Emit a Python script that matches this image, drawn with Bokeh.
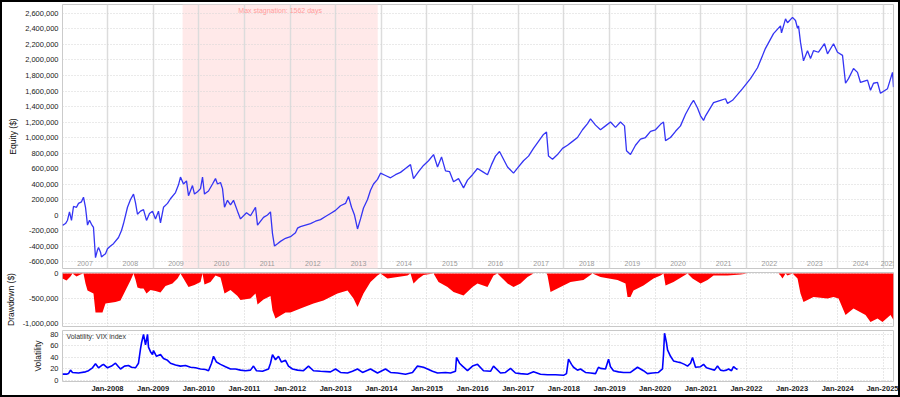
import numpy as np
from bokeh.plotting import figure
from bokeh.layouts import column
from bokeh.models import Range1d, FixedTicker, BoxAnnotation, Label, NumeralTickFormatter
from bokeh.embed import file_html
from bokeh.resources import INLINE
from bokeh.core.properties import value

# ---------------- data (dates as decimal years) ----------------
eq_t = [2007.014, 2007.08, 2007.124, 2007.167, 2007.211, 2007.255, 2007.321, 2007.365, 2007.430, 2007.474,
        2007.518, 2007.562, 2007.606, 2007.649, 2007.693, 2007.737, 2007.781, 2007.803, 2007.847, 2007.868,
        2007.912, 2007.956, 2008.000, 2008.066, 2008.131, 2008.241, 2008.307, 2008.351, 2008.438, 2008.504,
        2008.570, 2008.613, 2008.657, 2008.723, 2008.789, 2008.855, 2008.920, 2008.986, 2009.052, 2009.117,
        2009.161, 2009.227, 2009.315, 2009.380, 2009.490, 2009.556, 2009.599, 2009.665, 2009.731, 2009.775,
        2009.862, 2009.906, 2009.972, 2010.038, 2010.082, 2010.125, 2010.213, 2010.301, 2010.366, 2010.410,
        2010.476, 2010.520, 2010.564, 2010.629, 2010.695, 2010.761, 2010.848, 2010.914, 2011.046, 2011.133,
        2011.243, 2011.287, 2011.418, 2011.506, 2011.571, 2011.615, 2011.659, 2011.725, 2011.790, 2011.900,
        2012.009, 2012.119, 2012.163, 2012.228, 2012.338, 2012.448, 2012.557, 2012.667, 2012.776, 2012.886,
        2012.996, 2013.105, 2013.215, 2013.281, 2013.347, 2013.412, 2013.478, 2013.544, 2013.609, 2013.697,
        2013.763, 2013.829, 2013.916, 2013.982, 2014.091, 2014.201, 2014.310, 2014.420, 2014.529, 2014.639,
        2014.705, 2014.815, 2014.924, 2015.034, 2015.144, 2015.231, 2015.319, 2015.406, 2015.494, 2015.582,
        2015.691, 2015.801, 2015.888, 2015.998, 2016.107, 2016.217, 2016.326, 2016.414, 2016.501, 2016.589,
        2016.677, 2016.765, 2016.896, 2017.005, 2017.115, 2017.225, 2017.334, 2017.444, 2017.553, 2017.619,
        2017.663, 2017.751, 2017.860, 2017.970, 2018.079, 2018.189, 2018.298, 2018.408, 2018.518, 2018.583,
        2018.693, 2018.802, 2018.912, 2019.021, 2019.131, 2019.240, 2019.328, 2019.372, 2019.459, 2019.569,
        2019.678, 2019.788, 2019.898, 2020.007, 2020.117, 2020.183, 2020.227, 2020.336, 2020.446, 2020.555,
        2020.665, 2020.775, 2020.840, 2020.928, 2020.994, 2021.060, 2021.104, 2021.279, 2021.432, 2021.541,
        2021.585, 2021.695, 2021.914, 2022.088, 2022.242, 2022.417, 2022.593, 2022.746, 2022.768, 2022.856,
        2022.900, 2023.009, 2023.075, 2023.119, 2023.141, 2023.184, 2023.250, 2023.338, 2023.404, 2023.469,
        2023.579, 2023.710, 2023.776, 2023.908, 2023.995, 2024.105, 2024.171, 2024.236, 2024.346, 2024.433,
        2024.499, 2024.652, 2024.718, 2024.784, 2024.872, 2024.937, 2025.091, 2025.200, 2025.222]
eq_v = [-133, -110, -67, 40, -70, 110, 100, 150, 170, 230,
        100, -130, -67, -120, -160, -550, -450, -420, -480, -540,
        -520, -500, -435, -400, -370, -290, -200, -110, 100, 200,
        270, 160, 10, 50, 70, -70, 20, 50, -50, 50,
        -100, 100, 150, 210, 290, 390, 490, 400, 440, 250,
        380, 270, 300, 340, 490, 270, 310, 400, 470, 400,
        420, 340, 100, 190, 130, 190, 50, -50, 30, -10,
        100, -130, -30, 0, 40, -240, -400, -370, -340, -300,
        -280, -230, -170, -150, -130, -110, -80, -60, -20, 20,
        60, 120, 150, 240, 100, 0, -180, -50, 90, 200,
        320, 400, 460, 540, 510, 480, 520, 550, 600, 650,
        470, 560, 640, 700, 780, 620, 750, 570, 560, 430,
        470, 350, 450, 520, 600, 560, 520, 650, 760, 820,
        720, 620, 540, 620, 700, 760, 860, 950, 1040, 1070,
        760, 720, 780, 860, 900, 950, 1000, 1100, 1180, 1240,
        1160, 1100, 1150, 1200, 1130, 1200, 1150, 830, 780, 900,
        980, 1000, 1080, 1100, 1170, 1200, 960, 1000, 1080, 1150,
        1300, 1420, 1480, 1380, 1280, 1220, 1280, 1450, 1480, 1500,
        1440, 1480, 1630, 1760, 1900, 2150, 2340, 2440, 2350, 2530,
        2480, 2550, 2510, 2410, 2440, 2230, 1990, 2120, 2020, 2120,
        2100, 2210, 2080, 2210, 2100, 2060, 1700, 1760, 1890, 1840,
        1710, 1740, 1610, 1700, 1710, 1570, 1630, 1840, 1650]
eq_v = [v * 1000 for v in eq_v]

dd_t = [2007.014, 2007.102, 2007.189, 2007.233, 2007.321, 2007.408, 2007.474, 2007.518, 2007.562, 2007.627,
        2007.693, 2007.737, 2007.890, 2007.956, 2008.175, 2008.285, 2008.394, 2008.504, 2008.570, 2008.613,
        2008.657, 2008.723, 2008.789, 2008.855, 2008.942, 2009.052, 2009.161, 2009.271, 2009.424, 2009.534,
        2009.599, 2009.665, 2009.775, 2009.906, 2010.038, 2010.082, 2010.125, 2010.257, 2010.366, 2010.476,
        2010.564, 2010.695, 2010.848, 2010.914, 2011.133, 2011.243, 2011.287, 2011.418, 2011.571, 2011.615,
        2011.681, 2011.900, 2012.009, 2012.228, 2012.513, 2012.732, 2013.039, 2013.259, 2013.390, 2013.478,
        2013.609, 2013.763, 2013.916, 2013.982, 2014.135, 2014.354, 2014.573, 2014.639, 2014.705, 2014.815,
        2014.924, 2015.144, 2015.253, 2015.450, 2015.582, 2015.801, 2015.998, 2016.107, 2016.326, 2016.458,
        2016.545, 2016.765, 2016.896, 2017.049, 2017.203, 2017.334, 2017.619, 2017.641, 2017.707, 2017.860,
        2018.145, 2018.429, 2018.627, 2018.802, 2019.175, 2019.350, 2019.394, 2019.459, 2019.525, 2019.744,
        2019.963, 2020.117, 2020.183, 2020.227, 2020.402, 2020.709, 2020.818, 2020.994, 2021.147, 2021.279,
        2021.585, 2021.870, 2022.023, 2022.702, 2022.746, 2022.790, 2022.856, 2022.900, 2023.009, 2023.119,
        2023.184, 2023.250, 2023.469, 2023.776, 2023.908, 2024.018, 2024.171, 2024.346, 2024.609, 2024.718,
        2024.872, 2024.981, 2025.156, 2025.222]
dd_v = [-100, -140, -60, 0, -60, -20, 0, -200, -340, -370,
        -400, -780, -780, -600, -570, -540, -340, -140, 0, -120,
        -280, -300, -300, -400, -330, -350, -380, -250, -200, -100,
        0, -100, -270, -230, -170, 0, -220, -170, -40, -80,
        -400, -330, -450, -530, -500, -400, -620, -520, -450, -740,
        -900, -780, -780, -700, -600, -540, -400, -340, -500, -670,
        -400, -170, -40, 0, -100, -70, -40, 0, -200, -100,
        -30, 0, -170, -270, -370, -440, -270, -200, -270, -40,
        0, -200, -270, -200, -70, 0, 0, -40, -370, -300,
        -170, -130, 0, -70, -130, -200, -470, -470, -340, -240,
        -100, -40, 0, -240, -170, 0, -100, -200, -130, -40,
        -40, -20, 0, 0, -40, -100, 0, -40, 0, -100,
        -400, -570, -470, -500, -470, -500, -830, -700, -830, -970,
        -900, -970, -830, -930]
dd_v = [v * 1000 for v in dd_v]

vix_t = [2007.014, 2007.102, 2007.145, 2007.189, 2007.233, 2007.365, 2007.518, 2007.584, 2007.671, 2007.737,
         2007.803, 2007.868, 2007.912, 2008.000, 2008.088, 2008.175, 2008.241, 2008.285, 2008.372, 2008.460,
         2008.526, 2008.613, 2008.679, 2008.723, 2008.745, 2008.789, 2008.833, 2008.877, 2008.898, 2008.942,
         2008.986, 2009.008, 2009.074, 2009.161, 2009.227, 2009.315, 2009.380, 2009.490, 2009.599, 2009.709,
         2009.819, 2009.928, 2010.038, 2010.147, 2010.213, 2010.279, 2010.323, 2010.388, 2010.476, 2010.585,
         2010.695, 2010.804, 2010.914, 2011.024, 2011.133, 2011.199, 2011.265, 2011.396, 2011.528, 2011.571,
         2011.615, 2011.681, 2011.747, 2011.812, 2011.900, 2011.965, 2012.053, 2012.163, 2012.294, 2012.404,
         2012.513, 2012.667, 2012.886, 2012.996, 2013.105, 2013.259, 2013.368, 2013.478, 2013.588, 2013.763,
         2013.916, 2014.091, 2014.201, 2014.354, 2014.529, 2014.683, 2014.792, 2014.924, 2015.012, 2015.121,
         2015.231, 2015.406, 2015.515, 2015.625, 2015.647, 2015.713, 2015.778, 2015.888, 2015.998, 2016.107,
         2016.239, 2016.392, 2016.458, 2016.611, 2016.720, 2016.830, 2016.939, 2017.049, 2017.203, 2017.334,
         2017.487, 2017.641, 2017.816, 2017.992, 2018.057, 2018.101, 2018.167, 2018.211, 2018.298, 2018.364,
         2018.473, 2018.583, 2018.693, 2018.758, 2018.802, 2018.912, 2018.978, 2019.021, 2019.087, 2019.196,
         2019.306, 2019.459, 2019.613, 2019.744, 2019.831, 2019.941, 2020.072, 2020.160, 2020.183, 2020.205,
         2020.249, 2020.271, 2020.336, 2020.402, 2020.490, 2020.556, 2020.643, 2020.709, 2020.775, 2020.818,
         2020.884, 2020.994, 2021.060, 2021.125, 2021.213, 2021.301, 2021.366, 2021.432, 2021.498, 2021.563,
         2021.607, 2021.673, 2021.717, 2021.761, 2021.804]
vix_v = [11, 11, 12, 18, 14, 13, 15, 17, 22, 29,
         22, 26, 28, 22, 25, 30, 24, 20, 25, 26,
         23, 22, 30, 55, 65, 80, 62, 80, 58, 50,
         45, 52, 42, 45, 38, 35, 30, 27, 25, 26,
         23, 22, 20, 19, 17, 30, 42, 32, 28, 24,
         20, 20, 18, 17, 18, 25, 17, 16, 20, 30,
         45, 36, 42, 32, 35, 25, 20, 18, 17, 25,
         17, 16, 15, 20, 14, 13, 16, 20, 14, 20,
         13, 20, 14, 13, 11, 14, 25, 23, 20, 16,
         13, 14, 13, 16, 40, 30, 25, 17, 25, 28,
         17, 16, 25, 13, 14, 21, 13, 12, 11, 15,
         11, 10, 10, 9, 12, 37, 28, 23, 18, 20,
         14, 13, 12, 23, 21, 20, 37, 24, 17, 15,
         14, 14, 23, 17, 12, 13, 14, 20, 45, 82,
         65, 53, 42, 34, 32, 31, 28, 25, 30, 40,
         23, 24, 28, 22, 20, 18, 25, 18, 17, 18,
         20, 17, 24, 21, 19]

years = list(range(2007, 2026))
x_tick_years = list(range(2008, 2026))
x_tick_labels = ["Jan-%d" % y for y in x_tick_years]
equity_ticks = list(range(-600000, 2600001, 200000))
dd_ticks = [-1000000, -500000, 0]
vix_ticks = [0, 20, 40, 60, 80]

stag_start, stag_end = 2009.645, 2013.921
stagnation_days = 1562

# ---------------- layout ----------------
X_START, X_END = 2007.014, 2025.222
W = 896
FONT = "Liberation Sans"

def base_fig(height, y_range, mb_bottom):
    p = figure(width=W, height=height, x_range=Range1d(X_START, X_END), y_range=y_range,
               output_backend="svg", toolbar_location=None,
               min_border_left=60, min_border_right=5, min_border_top=2, min_border_bottom=mb_bottom)
    p.outline_line_color = "#c8c8c8"
    p.outline_line_width = 1
    p.background_fill_color = "white"
    p.border_fill_color = "white"
    ax = p.yaxis[0]
    ax.axis_line_color = None
    ax.major_tick_line_color = None
    ax.minor_tick_line_color = None
    ax.major_tick_out = 0
    ax.major_tick_in = 0
    ax.minor_tick_out = 0
    ax.minor_tick_in = 0
    ax.major_label_text_font = FONT
    ax.major_label_text_font_size = "7.5px"
    ax.major_label_text_color = "#222222"
    ax.major_label_standoff = 4
    ax.axis_label_text_font = FONT
    ax.axis_label_text_font_style = "normal"
    ax.axis_label_text_font_size = "8.5px"
    ax.axis_label_text_color = "#111111"
    ax.axis_label_standoff = 4
    return p

# Equity panel
x_shared = Range1d(X_START, X_END)
p1 = base_fig(268, Range1d(-690000, 2716000), 2)
p1.x_range = x_shared
p1.xaxis.visible = False
p1.yaxis.ticker = FixedTicker(ticks=equity_ticks)
p1.yaxis.formatter = NumeralTickFormatter(format="0,0")
p1.yaxis.axis_label = "Equity ($)"
p1.xgrid.ticker = FixedTicker(ticks=years)
p1.xgrid.grid_line_color = "#dcdcdc"
p1.xgrid.grid_line_width = 1.5
p1.ygrid.grid_line_color = "#d4d4d4"
p1.ygrid.grid_line_dash = "1 2"

p1.add_layout(BoxAnnotation(left=stag_start, right=stag_end, fill_color="#ffe9e9", fill_alpha=1.0,
                            line_color=None, level="image"))
p1.add_layout(Label(x=(stag_start + stag_end) / 2, y=2642000,
                    text="Max stagnation: %d days" % stagnation_days,
                    text_align="center", text_baseline="middle", text_font=FONT,
                    text_font_size="7px", text_color="#ff9c9c"))

mids = [(max(y, X_START) + min(y + 1, X_END)) / 2 for y in years]
p1.text(x=mids, y=[-622000] * len(years), text=[str(y) for y in years],
        text_align="center", text_baseline="middle", text_font=value(FONT),
        text_font_size="7px", text_color="#9a9a9a")

p1.line(eq_t, eq_v, line_color="#3434f4", line_width=1.3)

# Drawdown panel
p2 = base_fig(58, Range1d(-1060000, 20000), 2)
p2.x_range = x_shared
p2.xaxis.visible = False
p2.yaxis.ticker = FixedTicker(ticks=dd_ticks)
p2.yaxis.formatter = NumeralTickFormatter(format="0,0")
p2.yaxis.axis_label = "Drawdown ($)"
p2.xgrid.ticker = FixedTicker(ticks=x_tick_years)
for g in (p2.xgrid, p2.ygrid):
    g.grid_line_color = "#d0d0d0"
    g.grid_line_dash = "1 2"
p2.varea(x=dd_t, y1=0, y2=dd_v, fill_color="#ff0000")

# Volatility panel
p3 = base_fig(67, Range1d(-1.7, 86.7), 12)
p3.x_range = x_shared
p3.yaxis.ticker = FixedTicker(ticks=vix_ticks)
p3.yaxis.axis_label = "Volatility"
xa = p3.xaxis[0]
xa.ticker = FixedTicker(ticks=x_tick_years)
xa.major_label_overrides = {y: lab for y, lab in zip(x_tick_years, x_tick_labels)}
xa.axis_line_color = None
xa.major_tick_line_color = None
xa.minor_tick_line_color = None
xa.major_tick_out = 0
xa.major_tick_in = 0
xa.minor_tick_out = 0
xa.minor_tick_in = 0
xa.major_label_standoff = 2
xa.major_label_text_font = FONT
xa.major_label_text_font_size = "7.5px"
xa.major_label_text_font_style = "bold"
xa.major_label_text_color = "#222222"
for g in (p3.xgrid, p3.ygrid):
    g.grid_line_color = "#d0d0d0"
    g.grid_line_dash = "1 2"
p3.line(vix_t, vix_v, line_color="#0000ff", line_width=1.6)
p3.add_layout(Label(x=2007.10, y=76.5, text="Volatility: VIX index", text_align="left",
                    text_baseline="middle", text_font=FONT, text_font_size="7px",
                    text_color="#333333"))

layout = column(p1, p2, p3, spacing=0, styles={"border": "2px solid black"})

open("out.html", "w").write(file_html(layout, INLINE))
